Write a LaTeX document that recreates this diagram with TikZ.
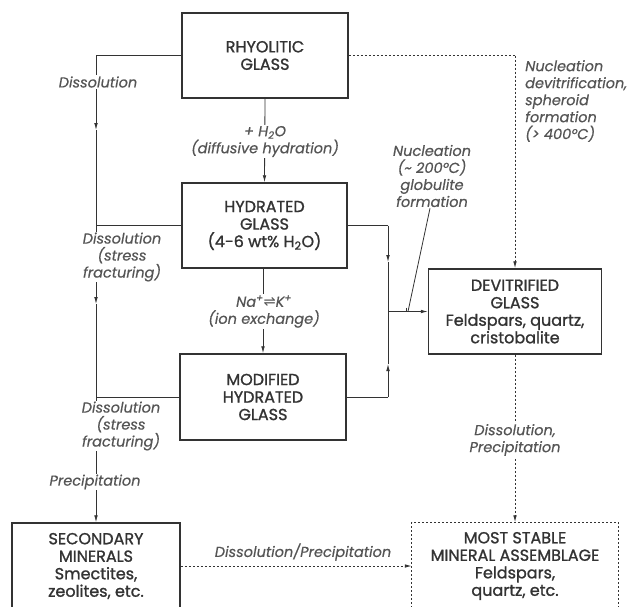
\documentclass[tikz,border=0pt]{standalone}
\usepackage{fontspec}
\setmainfont{Poppins}
\newfontfamily\boxfont{Poppins}[FakeBold=1.2]
\newfontfamily\lblfont{Poppins}[FakeBold=0.4]
\newfontfamily\symfont{DejaVu Sans}
\usetikzlibrary{arrows.meta}
\definecolor{ink}{HTML}{333333}
\definecolor{lblink}{HTML}{555555}
\begin{document}
\begin{tikzpicture}[x=1pt,y=-1pt,
  box/.style={draw=ink,line width=1.5pt,align=center,inner sep=0pt,text=ink,
    font=\boxfont\fontsize{16}{17.5}\selectfont},
  lbl/.style={font=\lblfont\itshape\fontsize{14.5}{17}\selectfont,text=lblink,fill=white,
    inner sep=1pt,align=center},
  conn/.style={draw=ink,line width=0.8pt},
  dline/.style={draw=ink,line width=0.9pt,dash pattern=on 2pt off 2pt},
  tip/.tip={Latex[length=7pt,width=3.6pt]}]
\useasboundingbox (0,0) rectangle (636,606);
\fill[white] (0,0) rectangle (636,606);

% boxes
\node[box,minimum width=166pt,minimum height=85pt] (Rh) at (265,55.5) {RHYOLITIC\\GLASS};
\node[box,minimum width=165pt,minimum height=85pt] (Hy) at (264.5,225.5) {HYDRATED\\GLASS\\(4-6 wt\% H\textsubscript{2}O)};
\node[box,minimum width=166pt,minimum height=86pt] (Mo) at (263,397) {MODIFIED\\HYDRATED\\GLASS};
\node[box,minimum width=173pt,minimum height=85pt] (Dv) at (515,311.5) {DEVITRIFIED\\GLASS\\Feldspars, quartz,\\cristobalite};
\node[box,minimum width=168pt,minimum height=86pt] (Se) at (96,566) {SECONDARY\\MINERALS\\Smectites,\\zeolites, etc.};
\node[box,draw=none,minimum width=205pt,minimum height=86pt] (Ms) at (515,566) {MOST STABLE\\MINERAL ASSEMBLAGE\\Feldspars,\\quartz, etc.};
\draw[dline,line width=1.4pt] (Ms.north west) rectangle (Ms.south east);

% left line
\coordinate (L1) at (96,55.5);
\coordinate (La) at (96,130);
\coordinate (L2) at (96,225.5);
\coordinate (Lb) at (96,304);
\coordinate (L3) at (96,397);
\draw[conn] (Rh.west) -- (L1);
\draw[conn,-{tip}] (L1) -- (La);
\draw[conn] (La) -- (L2) -- (Hy.west);
\draw[conn,-{tip}] (L2) -- (Lb);
\draw[conn] (Lb) -- (L3) -- (Mo.west);
\draw[conn,-{tip}] (L3) -- (Se.north);

% central arrows
\draw[conn,-{tip}] (Rh.south) -- (Hy.north);
\draw[conn,-{tip}] (Hy.south -| Mo.north) -- (Mo.north);

% right bus
\coordinate (R1) at (388,225.5);
\coordinate (Ra) at (388,262);
\coordinate (R2) at (388,397);
\coordinate (Rb) at (388,364);
\coordinate (J) at (388,311.5);
\coordinate (K) at (408,311.5);
\draw[conn] (Hy.east) -- (R1);
\draw[conn,-{tip}] (R1) -- (Ra);
\draw[conn] (Ra) -- (J);
\draw[conn] (Mo.east) -- (R2);
\draw[conn,-{tip}] (R2) -- (Rb);
\draw[conn] (Rb) -- (J);
\draw[conn,-{tip}] (J) -- (Dv.west);

% dashed connectors
\coordinate (D1) at (Dv.north |- Rh.east);
\draw[dline] (Rh.east) -- (D1);
\draw[dline,-{tip}] (D1) -- (Dv.north);
\draw[dline,-{tip}] (Dv.south) -- (Ms.north);
\draw[dline,-{tip}] (Se.east) -- (Ms.west);

% labels
\node[lbl] (l1) at (98,82) {Dissolution};
\node[lbl] (l2) at (122,257) {Dissolution\\(stress\\fracturing)};
\node[lbl] (l3) at (121,426) {Dissolution\\(stress\\fracturing)};
\node[lbl] (l4) at (95,482) {Precipitation};
\node[lbl] (l5) at (265,141.5) {+ H\textsubscript{2}O\\(diffusive hydration)};
\node[lbl] (l6) at (264,311.5) {Na\textsuperscript{+}{\symfont\upshape ⇌}K\textsuperscript{+}\\(ion exchange)};
\node[lbl,fill=none] (l7) at (432,176) {Nucleation\\(\textasciitilde{} 200°C)\\globulite\\formation};
\node[lbl,fill=none,align=left,anchor=west] (l8) at (524,101) {Nucleation\\devitrification,\\spheroid\\formation\\(> 400°C)};
\node[lbl] (l9) at (515,440) {Dissolution,\\Precipitation};
\node[lbl,fill=none] (l10) at (303,552) {Dissolution/Precipitation};

% leader line
\draw[conn] (l7.south) ++(-2,0) coordinate (N1) -- (K);
\draw[conn] (K) ++(-2,-4) -- ++(0,4);
\end{tikzpicture}
\end{document}
